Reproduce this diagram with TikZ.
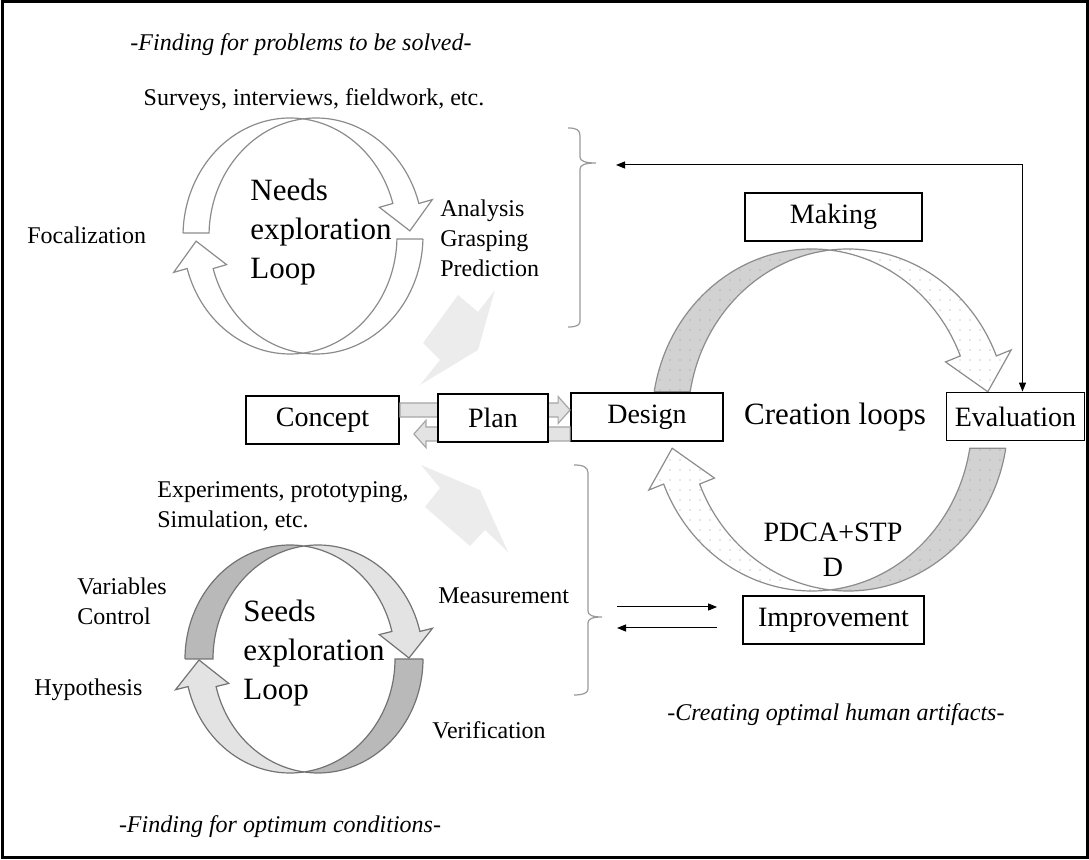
\documentclass[tikz,border=0pt]{standalone}
\usepackage{fontspec}
\setmainfont{Liberation Serif}
\usetikzlibrary{calc,arrows.meta,patterns.meta}

\newcommand{\loophalf}[9]{%
\pgfmathsetmacro{\angA}{acos(-#3/#1)}%
\pgfmathsetmacro{\angB}{acos(#3/#1)}%
\path[#8]($(-#3,0)+(#4:#1 and #2)$)--($(#3,0)+(#4:#1 and #2)$)
 arc[start angle=#4,end angle=\angA,x radius=#1,y radius=#2]
 arc[start angle=\angB,end angle=#4,x radius=#1,y radius=#2]--cycle;
\path[#9]($(#3,0)+(\angA:#1 and #2)$)
 arc[start angle=\angA,end angle=#5,x radius=#1,y radius=#2]
 --++(#5:#7)--(#6:#1 and #2)--($(-#3,0)+(#5:#1 and #2)+(#5+180:#7)$)
 --($(-#3,0)+(#5:#1 and #2)$)
 arc[start angle=#5,end angle=\angB,x radius=#1,y radius=#2]--cycle;
}
\newcommand{\fatarrow}[2]{%
\path[fat] let \p1=(#1),\p2=(#2),\n1={sign(\x2-\x1)} in
 (\x1,\y1+3.5pt)--(\x2-\n1*6pt,\y1+3.5pt)--(\x2-\n1*6pt,\y1+6.75pt)--(\x2,\y1)
 --(\x2-\n1*6pt,\y1-6.75pt)--(\x2-\n1*6pt,\y1-3.5pt)--(\x1,\y1-3.5pt)--cycle;
}

\tikzset{
box/.style={draw,line width=0.9pt,fill=white,minimum height=24pt,inner sep=2pt,font=\fontsize{14}{17}\selectfont},
lbl/.style={inner sep=0pt,font=\fontsize{12}{15}\selectfont},
big/.style={inner sep=0pt,font=\fontsize{15.5}{19.5}\selectfont},
ttl/.style={inner sep=0pt,font=\fontsize{12}{15}\selectfont\itshape},
fat/.style={draw=gray!70,fill=gray!22,line width=0.6pt},
zig/.style={fill=gray!15},
brace/.style={draw=gray!80,line width=0.6pt},
thinarrow/.style={line width=0.5pt,>={Triangle[length=4.5pt,width=3.5pt]}},
needsband/.style={draw=gray!90,line width=0.6pt,fill=white},
seedstail/.style={draw=gray!90!black,line width=0.6pt,fill=gray!55},
seedshead/.style={draw=gray!90!black,line width=0.6pt,fill=gray!22},
dotted band/.style={postaction={pattern={Dots[distance=5pt,radius=0.35pt]},pattern color=gray!80}},
maketail/.style={draw=gray!90,line width=0.6pt,fill=gray!35,dotted band},
makehead/.style={draw=gray!90,line width=0.6pt,fill=white,dotted band}
}

\begin{document}
\begin{tikzpicture}[x=0.5pt,y=-0.5pt]
\useasboundingbox(0,0)rectangle(1089,860);
\draw[line width=1.5pt](2,2)rectangle(1087,858);

\path[zig](495,290)--(478,312)--(458,295)--(423,343)--(440,360)--(420,385)--(478,350)--cycle;
\path[zig](508,552)--(485,530)--(470,546)--(425,507)--(440,488)--(421,465)--(480,490)--cycle;

\begin{scope}[shift={(303,236)},yscale=-1]
\loophalf{107}{118}{13}{178.5}{16}{2.5}{14}{needsband}{needsband}
\end{scope}
\begin{scope}[shift={(303,236)},yscale=-1,rotate=180]
\loophalf{107}{118}{13}{178.5}{16}{2.5}{14}{needsband}{needsband}
\end{scope}

\begin{scope}[shift={(304,659)},yscale=-1]
\loophalf{105}{114}{14}{180}{14}{0.5}{13}{seedstail}{seedshead}
\end{scope}
\begin{scope}[shift={(304,659)},yscale=-1,rotate=180]
\loophalf{105}{114}{14}{180}{14}{0.5}{13}{seedstail}{seedshead}
\end{scope}

\begin{scope}[shift={(830,420)},yscale=-1]
\loophalf{160}{171}{18}{170.5}{22}{9.5}{16}{maketail}{makehead}
\end{scope}
\begin{scope}[shift={(830,420)},yscale=-1,rotate=180]
\loophalf{160}{171}{18}{170.5}{22}{9.5}{16}{maketail}{makehead}
\end{scope}

\node[box,minimum width=76.5pt](concept)at(322.5,420){Concept};
\node[box,minimum width=76pt](design)at(647,417){Design};
\path(concept.east)++(0,-10)coordinate(cd);
\path(concept.east)++(14,14)coordinate(dc);
\fatarrow{cd}{cd-|design.west}
\fatarrow{dc-|design.west}{dc}
\node[box,minimum width=55pt](plan)at(493,418){Plan};
\node[box,minimum width=69pt](evaluation)at(1015.5,416.5){Evaluation};
\node[box,minimum width=88.5pt](making)at(833.5,217){Making};
\node[box,minimum width=90.5pt](improvement)at(833.5,620){Improvement};

\path[brace](568,128)..controls(577,128)and(580,130)..(580,136)--(580,157)
 ..controls(580,161)and(585,163)..(596,163)..controls(585,163)and(580,165)..(580,169)
 --(580,321)..controls(580,325)and(577,327)..(568,327);
\path[brace](574,465)..controls(583,465)and(588,467)..(588,473)--(588,611)
 ..controls(588,615)and(592,617)..(602,617)..controls(592,617)and(588,619)..(588,623)
 --(588,689)..controls(588,693)and(583,695)..(574,695);

\coordinate(fb)at(616,165);
\coordinate(et)at([xshift=3.5pt]evaluation.north);
\draw[thinarrow,<->](fb)-|(et);
\coordinate(mb1)at(617,607);
\coordinate(mb2)at(617,628);
\draw[thinarrow,->,shorten >=12.5pt](mb1)--(mb1-|improvement.west);
\draw[thinarrow,<-,shorten <=0pt,shorten >=12.5pt](mb2)--(mb2-|improvement.west);

\node[ttl](needstitle)at(301,45){-Finding for problems to be solved-};
\node[lbl](surveys)at(314,100){Surveys, interviews, fieldwork, etc.};
\node[lbl,anchor=west](focal)at(27,235){Focalization};
\node[big,anchor=west,align=left](needs)at(250,232.5){Needs\\exploration\\Loop};
\node[lbl,anchor=west,align=left](analysis)at(440,238){Analysis\\Grasping\\Prediction};
\node[big](creation)at(835,417){Creation loops};
\node[box,draw=none,fill=none,align=center,font=\fontsize{14}{17.5}\selectfont](pdca)at(833,550){PDCA+STP\\D};
\node[lbl,anchor=west,align=left](experiments)at(157,506){Experiments, prototyping,\\Simulation, etc.};
\node[lbl,anchor=west,align=left](variables)at(77,601.5){Variables\\Control};
\node[lbl,anchor=west](hypothesis)at(34,690){Hypothesis};
\node[big,anchor=west,align=left](seeds)at(243,653){Seeds\\exploration\\Loop};
\node[lbl,anchor=west](measurement)at(438,596){Measurement};
\node[lbl,anchor=west](verification)at(432,730){Verification};
\node[ttl](creationtitle)at(836,715){-Creating optimal human artifacts-};
\node[ttl](seedstitle)at(280,827){-Finding for optimum conditions-};
\end{tikzpicture}
\end{document}
